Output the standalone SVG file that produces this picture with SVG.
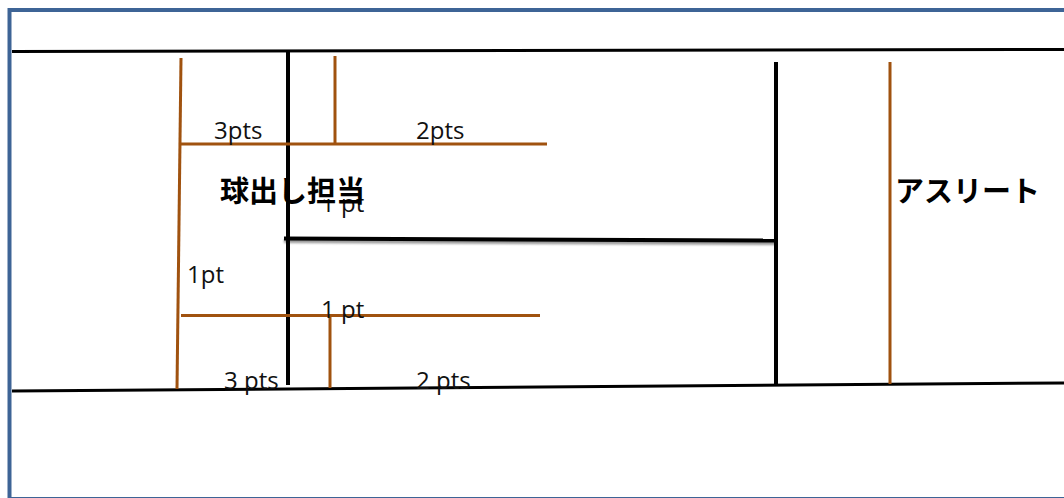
<svg xmlns="http://www.w3.org/2000/svg" width="1064" height="498" viewBox="0 0 1064 498">
  <style>
    .blk { stroke: #000; fill: none; stroke-linecap: butt; }
    .org { stroke: #a0520f; stroke-width: 3; fill: none; }
    .lbl { font-family: "Open Sans", "Liberation Sans", sans-serif; font-size: 24px; fill: #111; }
    .jp { font-family: "Noto Sans CJK JP", "Noto Sans", sans-serif; font-size: 29px; font-weight: bold; fill: #000; }
  </style>
  <defs>
    <clipPath id="clip1pt"><rect x="300" y="199" width="100" height="30"/></clipPath>
    <filter id="shadow" x="-5%" y="-100%" width="110%" height="400%">
      <feGaussianBlur stdDeviation="1.2"/>
    </filter>
  </defs>
  <rect width="1064" height="498" fill="#fff"/>
  <rect id="frame" x="9.5" y="10" width="1070" height="489" fill="none" stroke="#3e6496" stroke-width="4"/>

  <g id="connectors">
    <line class="blk" x1="12" y1="51.5" x2="1064" y2="49.5" stroke-width="3"/>
    <line class="blk" x1="12" y1="391" x2="1064" y2="383" stroke-width="3"/>
    <line x1="284" y1="241" x2="776" y2="243" stroke="#999" stroke-width="4" filter="url(#shadow)"/>
    <line class="blk" x1="284" y1="238.5" x2="776" y2="240.5" stroke-width="4"/>
    <line class="blk" x1="288" y1="52" x2="288" y2="385" stroke-width="4"/>
    <line class="blk" x1="776" y1="62" x2="776" y2="384" stroke-width="4"/>
    <line class="org" x1="181" y1="58" x2="177" y2="389"/>
    <line class="org" x1="180" y1="144" x2="547" y2="144"/>
    <line class="org" x1="335" y1="56" x2="335" y2="144"/>
    <line class="org" x1="181" y1="315.5" x2="540" y2="315.5"/>
    <line class="org" x1="330" y1="317" x2="330" y2="388"/>
    <line class="org" x1="890" y1="62" x2="890" y2="384"/>
  </g>

  <g id="label-3pts-top"><text class="lbl" x="214" y="139">3pts</text></g>
  <g id="label-2pts-top"><text class="lbl" x="416" y="139">2pts</text></g>
  <g id="label-1pt-upper"><text class="lbl" x="321" y="212" clip-path="url(#clip1pt)">1 pt</text></g>
  <g id="node-ballfeeder"><text class="jp" x="220" y="202">球出し担当</text></g>
  <g id="node-athlete"><text class="jp" x="895" y="202">アスリート</text></g>
  <g id="label-1pt-left"><text class="lbl" x="187" y="283">1pt</text></g>
  <g id="label-1pt-lower"><text class="lbl" x="321" y="318">1 pt</text></g>
  <g id="label-3pts-bottom"><text class="lbl" x="224" y="389">3 pts</text></g>
  <g id="label-2pts-bottom"><text class="lbl" x="416" y="389">2 pts</text></g>
</svg>
